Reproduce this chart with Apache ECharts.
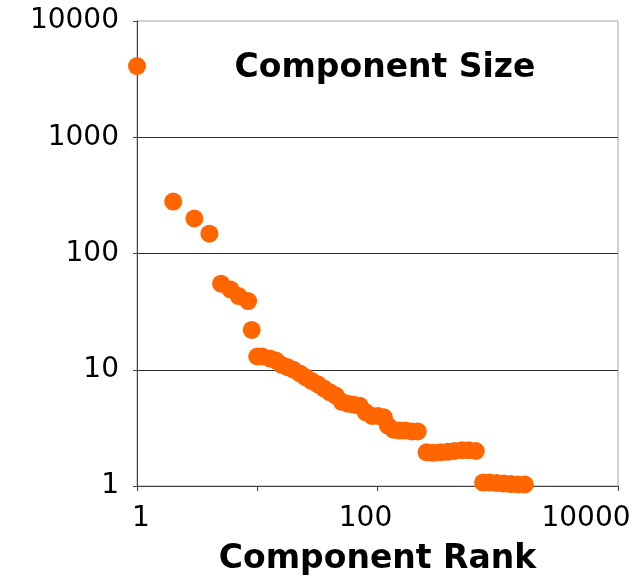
<!DOCTYPE html>
<html>
<head>
<meta charset="utf-8">
<script src="https://cdn.jsdelivr.net/npm/echarts@6/dist/echarts.min.js"></script>
<style>
html,body{margin:0;padding:0;background:#fff;}
#c{width:638px;height:582px;}
</style>
</head>
<body>
<div id="c"></div>
<script>
var ranks = [1, 2, 3, 4, 5, 6, 7, 8.4, 9,
  10, 11, 12.7, 14.3, 16, 18, 20, 22.6, 25.3, 28.4, 31.9, 35.8, 40.2, 45, 50.5, 56.7, 63.6, 71.3, 80, 90, 101, 113, 122, 136, 153, 171, 193, 216,
  256, 292, 336, 385, 438, 504, 573, 657, 755, 856, 984, 1125, 1285, 1470, 1680];
var sizes = [4100, 280, 200, 148, 55, 49, 43, 39, 22,
  13, 13, 12.5, 12, 11, 10.5, 10, 9.3, 8.6, 8, 7.5, 6.9, 6.4, 6, 5.3, 5.1, 5.0, 4.9, 4.3, 4.0, 4.0, 3.9, 3.3, 3.05, 3.0, 3.0, 2.95, 2.95,
  1.95, 1.93, 1.95, 1.97, 2.0, 2.03, 2.03, 2.0, 1.07, 1.07, 1.06, 1.05, 1.04, 1.03, 1.03];
var xLabels = {1: '{a|1}', 100: '{b|100}', 10000: '{c|10000}'};
var yTicks = [1, 10, 100, 1000, 10000];
var titleText = 'Component Size';
var xName = 'Component Rank';

var points = ranks.map(function (r, i) { return [r, sizes[i]]; });
var chart = echarts.init(document.getElementById('c'), null, {renderer: 'canvas'});
var tickFont = 'DejaVu Sans';
var fs = 28;
chart.setOption({
  animation: false,
  backgroundColor: '#fff',
  title: {
    text: titleText,
    left: 380,
    top: 47,
    textAlign: 'center',
    textStyle: {fontFamily: 'DejaVu Sans', fontWeight: 'bold', fontSize: 33, color: '#000'}
  },
  grid: {left: 137, top: 21, width: 481, height: 465, show: true, borderColor: '#a6a6a6', borderWidth: 1, backgroundColor: 'transparent'},
  xAxis: {
    type: 'log', logBase: 10, min: 1, max: 10000,
    name: xName, nameLocation: 'middle', nameGap: 57,
    nameTextStyle: {fontFamily: 'DejaVu Sans', fontWeight: 'bold', fontSize: 33, color: '#000'},
    axisLine: {show: true, lineStyle: {color: '#404040', width: 1}},
    axisTick: {show: true, length: 5, inside: false, lineStyle: {color: '#404040'}},
    minorTick: {show: false},
    splitLine: {show: false},
    axisLabel: {
      margin: 19,
      fontFamily: tickFont, fontSize: fs, color: '#000',
      formatter: function (v) { return xLabels[Math.round(v)] || ''; },
      rich: {
        a: {fontFamily: tickFont, fontSize: fs, color: '#000', padding: [0, 0, 0, 8]},
        b: {fontFamily: tickFont, fontSize: fs, color: '#000', padding: [0, 24, 0, 0]},
        c: {fontFamily: tickFont, fontSize: fs, color: '#000', padding: [0, 64, 0, 0]}
      }
    }
  },
  yAxis: {
    type: 'log', logBase: 10, min: 1, max: 10000,
    axisLine: {show: true, lineStyle: {color: '#404040', width: 1}},
    axisTick: {show: true, length: 4, lineStyle: {color: '#404040'}},
    splitLine: {show: true, showMaxLine: false, lineStyle: {color: '#303030', width: 1}},
    axisLabel: {
      margin: 18,
      fontFamily: tickFont, fontSize: fs, color: '#000',
      formatter: function (v) { return yTicks.indexOf(Math.round(v)) >= 0 ? String(Math.round(v)) : ''; }
    }
  },
  series: [{
    type: 'scatter',
    data: points,
    symbol: 'circle',
    symbolSize: 18,
    itemStyle: {color: '#FF6600', opacity: 1},
    clip: false
  }]
});
</script>
</body>
</html>
